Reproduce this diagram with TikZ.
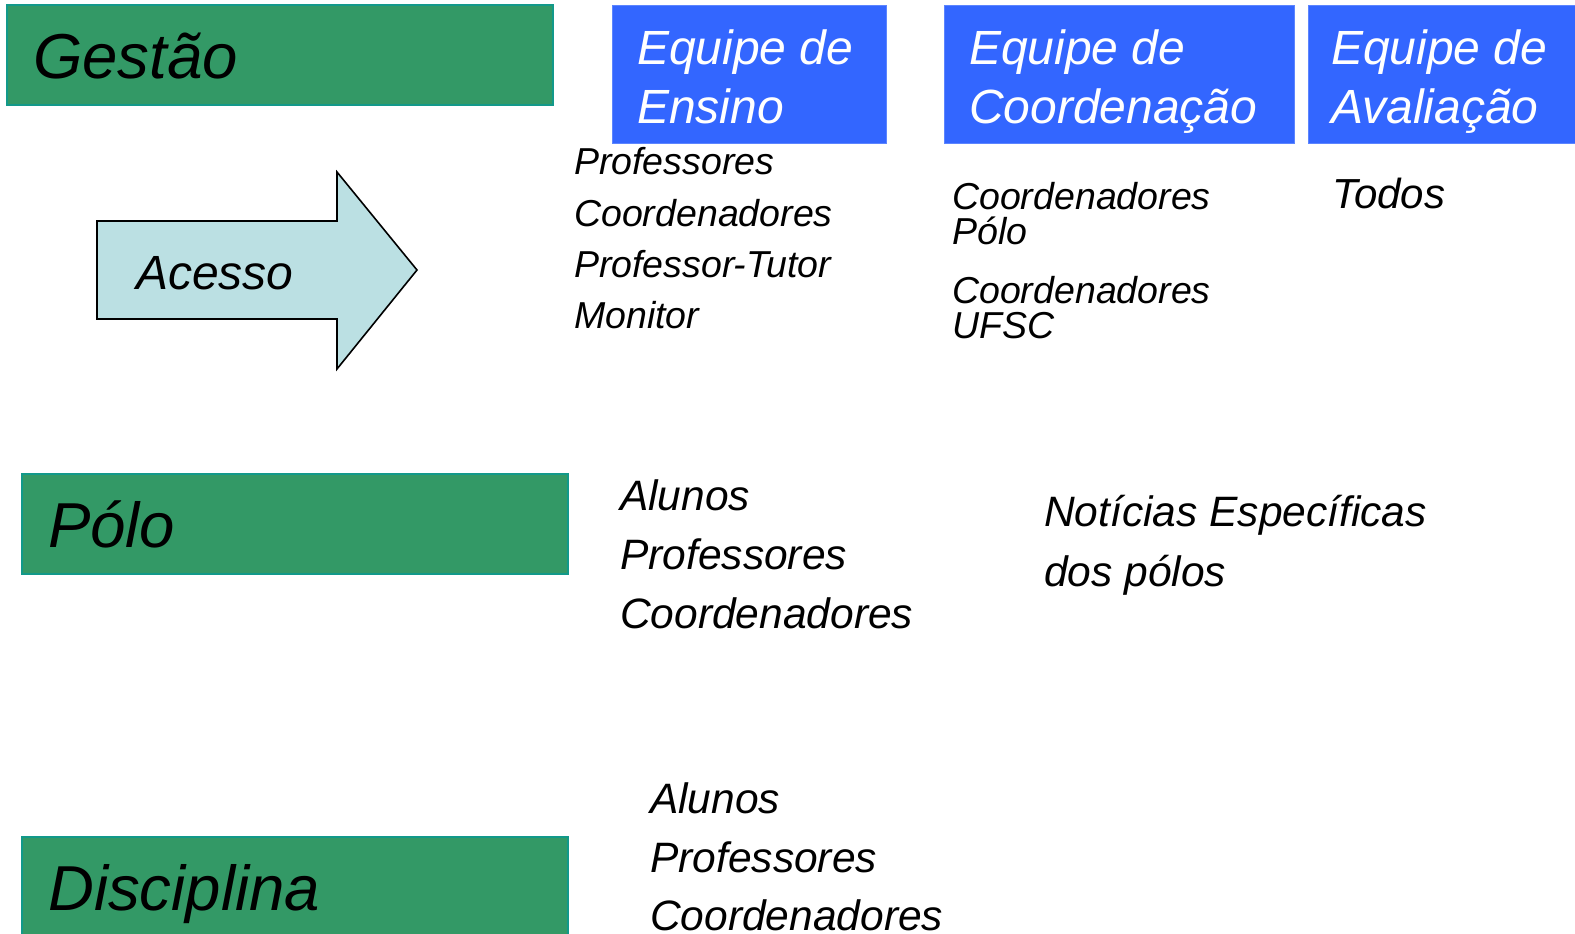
\documentclass[tikz,border=0pt]{standalone}
\usepackage{fontspec}
\setmainfont{Liberation Sans}
\definecolor{gbox}{HTML}{339966}
\definecolor{gedge}{HTML}{12998A}
\definecolor{bbox}{HTML}{3366FF}
\definecolor{afill}{HTML}{BBE0E3}
\tikzset{
  greenbox/.style={fill=gbox,draw=gedge,line width=1.6pt},
  bluebox/.style={fill=bbox,draw=bbox!80!white,line width=0.8pt},
  big/.style={anchor=base west,inner sep=0pt,font=\fontsize{63.5}{63.5}\selectfont\itshape},
  head/.style={anchor=base west,inner sep=0pt,text=white,font=\fontsize{48}{48}\selectfont\itshape},
  small/.style={anchor=base west,inner sep=0pt,font=\fontsize{37.5}{37.5}\selectfont\itshape},
  mid/.style={anchor=base west,inner sep=0pt,font=\fontsize{42.5}{42.5}\selectfont\itshape},
}
\begin{document}
\begin{tikzpicture}[x=1pt,y=-1pt]
\useasboundingbox (0,0) rectangle (1575,934);
% green boxes
\path[greenbox] (7,5) rectangle (553,105);
\node[big] (gestao) at (33,78.5) {Gestão};
\path[greenbox] (22,474) rectangle (568,574);
\node[big] (polo) at (48,547) {Pólo};
\path[greenbox] (22,837) rectangle (568,945);
\node[big] (disc) at (48,910) {Disciplina};
% blue boxes
\path[bluebox] (612,5) rectangle (886,143);
\node[head] (e1a) at (637,65) {Equipe de};
\node[head] (e1b) at (637,123) {Ensino};
\path[bluebox] (944,5) rectangle (1294,143);
\node[head] (e2a) at (969,65) {Equipe de};
\node[head] (e2b) at (969,123) {Coordenação};
\path[bluebox] (1308,5) rectangle (1585,143);
\node[head] (e3a) at (1331,65) {Equipe de};
\node[head] (e3b) at (1331,123) {Avaliação};
% arrow
\draw[fill=afill,line width=1.6pt,line join=miter] (97,221) -- (337,221) -- (337,172) -- (417,270) -- (337,369) -- (337,319) -- (97,319) -- cycle;
\node[anchor=base west,inner sep=0pt,font=\fontsize{48}{48}\selectfont\itshape] (acesso) at (136,289) {Acesso};
% Ensino list
\node[small] (l1) at (574,174) {Professores};
\node[small] (l2) at (574,226) {Coordenadores};
\node[small] (l3) at (574,277) {Professor-Tutor};
\node[small] (l4) at (574,328) {Monitor};
% Coordenacao list
\node[small] (c1) at (952,209) {Coordenadores};
\node[small] (c2) at (952,244) {Pólo};
\node[small] (c3) at (952,303) {Coordenadores};
\node[small] (c4) at (952,338) {UFSC};
% Todos
\node[anchor=base west,inner sep=0pt,font=\fontsize{42}{42}\selectfont\itshape] (todos) at (1332,208) {Todos};
% Polo list
\node[mid] (p1) at (620,510) {Alunos};
\node[mid] (p2) at (620,569) {Professores};
\node[mid] (p3) at (620,628) {Coordenadores};
\node[mid] (n1) at (1044,526) {Notícias Específicas};
\node[mid] (n2) at (1044,586) {dos pólos};
% Disciplina list
\node[mid] (d1) at (650,813) {Alunos};
\node[mid] (d2) at (650,872) {Professores};
\node[mid] (d3) at (650,930) {Coordenadores};
\end{tikzpicture}
\end{document}
